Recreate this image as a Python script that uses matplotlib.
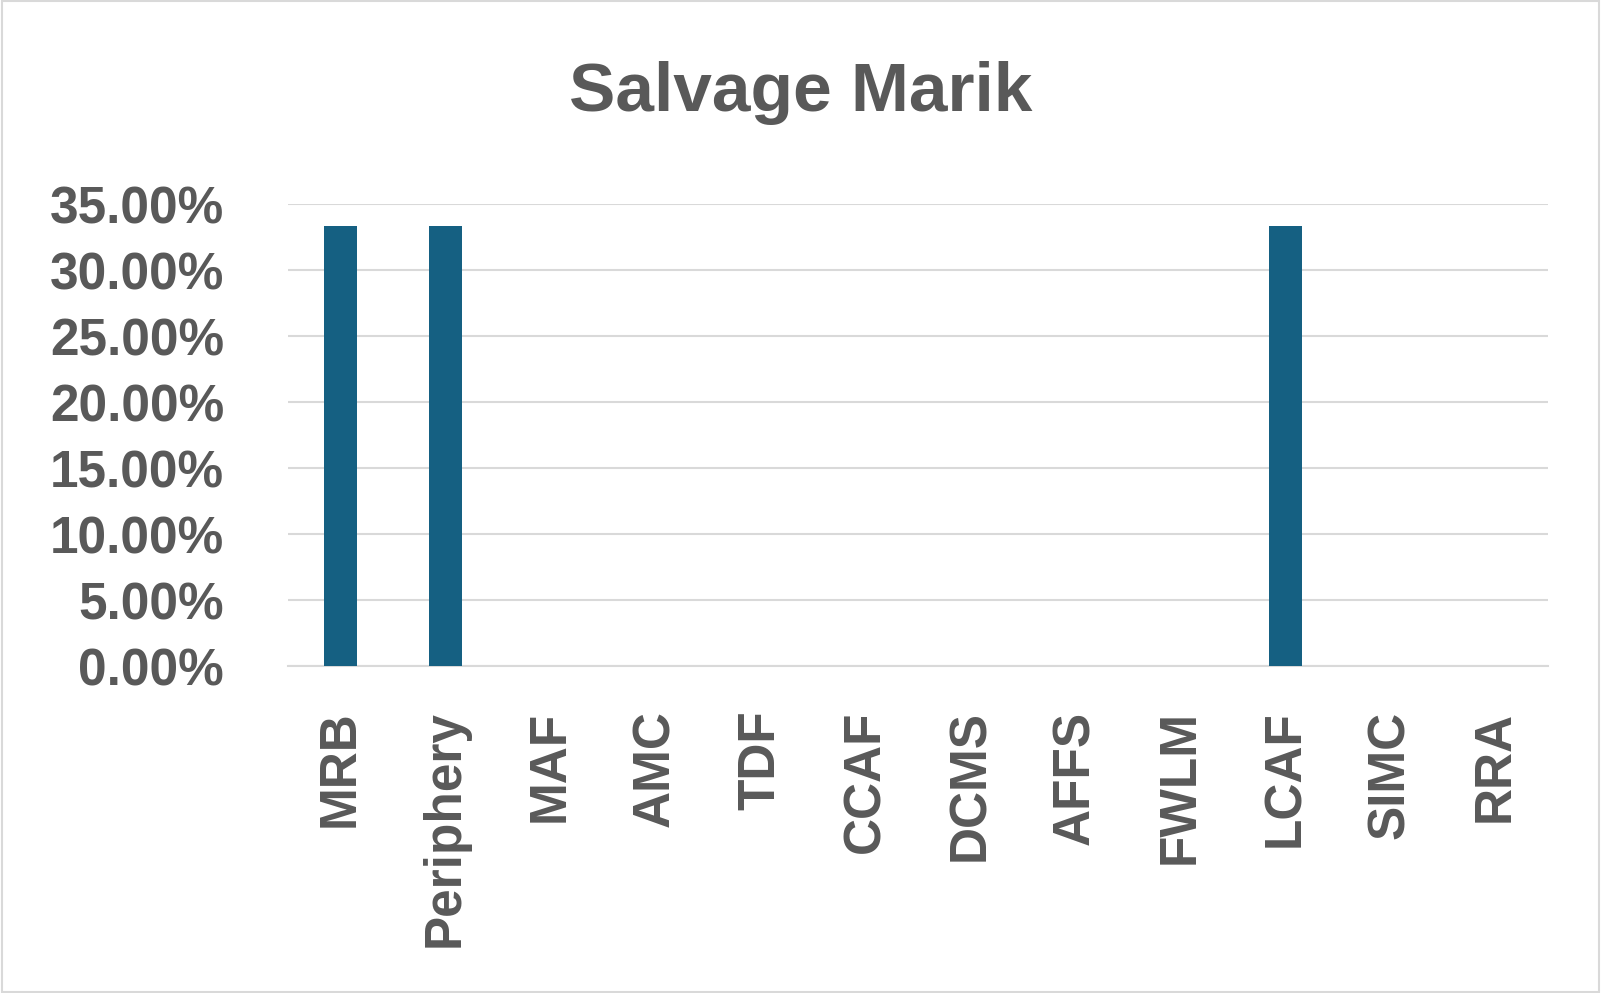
import matplotlib.pyplot as plt
from matplotlib.ticker import PercentFormatter
from matplotlib.patches import Rectangle

categories = ['MRB', 'Periphery', 'MAF', 'AMC', 'TDF', 'CCAF', 'DCMS',
              'AFFS', 'FWLM', 'LCAF', 'SIMC', 'RRA']
values = [1/3, 1/3, 0, 0, 0, 0, 0, 0, 0, 1/3, 0, 0]

plt.rcParams['font.family'] = ['Liberation Sans', 'DejaVu Sans']
text_color = '#595959'

fig = plt.figure(figsize=(16.01, 9.93), dpi=100)
ax = fig.add_axes([288 / 1601, 1 - 666 / 993, 1260 / 1601, 462 / 993])

x = range(len(categories))
ax.bar(x, values, width=0.31, color='#156082', zorder=3)

ax.set_xlim(-0.5, len(categories) - 0.5)
ax.set_ylim(0, 0.35)
ax.set_yticks([i * 0.05 for i in range(8)])
ax.yaxis.set_major_formatter(PercentFormatter(1.0, decimals=2))
ax.grid(axis='y', color='#d9d9d9', linewidth=1.5, zorder=0)

ax.set_xticks(list(x))
ax.set_xticklabels(categories, rotation=90)
for spine in ['top', 'right', 'left']:
    ax.spines[spine].set_visible(False)
ax.spines['bottom'].set_color('#d9d9d9')
ax.spines['bottom'].set_linewidth(1.5)
ax.tick_params(axis='both', length=0, labelsize=37, labelcolor=text_color)
ax.tick_params(axis='x', pad=32)
ax.tick_params(axis='y', pad=46)
for lbl in ax.get_xticklabels() + ax.get_yticklabels():
    lbl.set_fontweight('bold')

fig.text(0.5, 1 - 93 / 993, 'Salvage Marik', ha='center', va='center',
         fontsize=50, fontweight='bold', color=text_color)

fig.patches.append(Rectangle((0.001, 0.001), 0.998, 0.998, transform=fig.transFigure,
                             fill=False, edgecolor='#d9d9d9', linewidth=1.5))

fig.savefig('out.png', dpi=100)
